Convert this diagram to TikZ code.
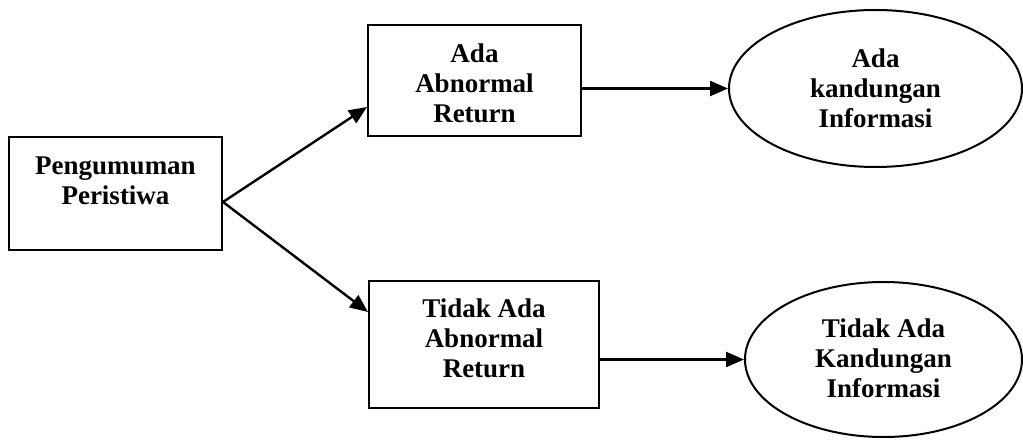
\documentclass[tikz,border=0pt]{standalone}
\usepackage{fontspec}
\setmainfont{Liberation Serif}
\usetikzlibrary{arrows.meta,shapes.geometric}
\begin{document}
\begin{tikzpicture}[x=1pt,y=-1pt,
  lbl/.style={align=center,inner sep=0pt,font=\fontsize{27}{30}\selectfont\bfseries},
  boxnode/.style={draw,line width=2pt,minimum width=#1,inner sep=0pt},
  ellnode/.style={draw,ellipse,line width=2pt,inner sep=0pt},
  arr/.style={line width=2.4pt,-{Triangle[length=18pt,width=15pt]}}]
\useasboundingbox (0,0) rectangle (1023,441);
% boxes
\node[boxnode=213pt,minimum height=113pt] (src) at (115.5,193.5) {};
\node[lbl] (srct) at (115.5,181) {Pengumuman\\Peristiwa};
\node[boxnode=213pt,minimum height=111pt] (top) at (474.5,80.5) {};
\node[lbl] (topt) at (474.5,83) {Ada\\Abnormal\\Return};
\node[boxnode=230pt,minimum height=127pt] (bot) at (484,344.5) {};
\node[lbl] (bott) at (484,338) {Tidak Ada\\Abnormal\\Return};
% ellipses
\node[ellnode,minimum width=293pt,minimum height=157pt] (tell) at (875.5,88.5) {};
\node[lbl] (tellt) at (875.5,88) {Ada\\kandungan\\Informasi};
\node[ellnode,minimum width=277pt,minimum height=155pt] (bell) at (883.5,359.5) {};
\node[lbl] (bellt) at (883.5,358) {Tidak Ada\\Kandungan\\Informasi};
% connectors
\draw[arr] ([yshift=-8.5pt]src.east) -- ([yshift=-26.5pt]top.west);
\draw[arr] ([yshift=-8.5pt]src.east) -- ([yshift=32.5pt]bot.west);
\draw[arr] (top.east |- tell.west) -- (tell.west);
\draw[arr] (bot.east |- bell.west) -- (bell.west);
\end{tikzpicture}
\end{document}
